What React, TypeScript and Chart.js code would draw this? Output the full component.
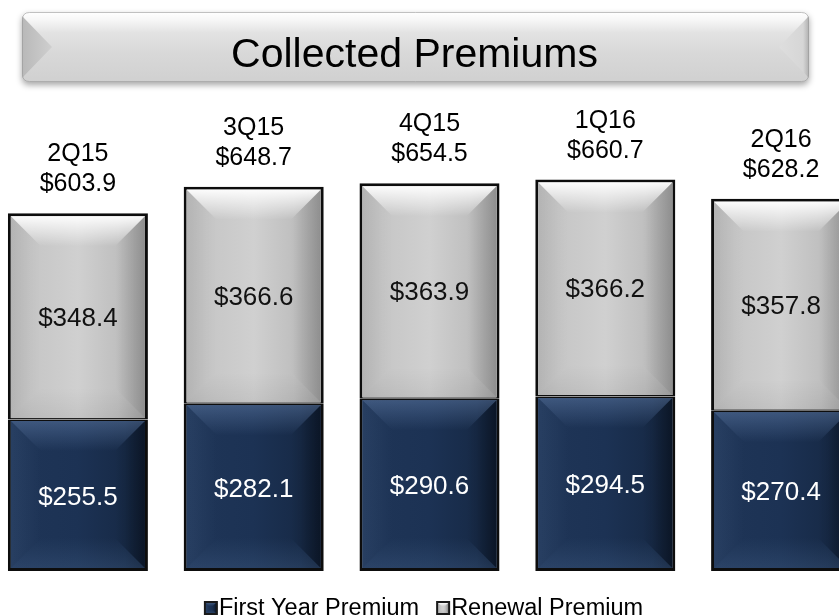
import React, { useEffect, useRef } from 'react';
import { Chart, registerables } from 'chart.js';

Chart.register(...registerables);

// ---- data ----
const categories = ['2Q15', '3Q15', '4Q15', '1Q16', '2Q16'];
const firstYearPremium = [255.5, 282.1, 290.6, 294.5, 270.4];
const renewalPremium = [348.4, 366.6, 363.9, 366.2, 357.8];
const totals = [603.9, 648.7, 654.5, 660.7, 628.2];
const seriesNames = ['First Year Premium', 'Renewal Premium'];
const titleText = 'Collected Premiums';

const FONT = '"Liberation Sans", Arial, Helvetica, sans-serif';
const OFFSET_X = 10; // canvas sits 10px left of the page edge

const fmt = (v: number) => '$' + v.toFixed(1);

type Pal = {
  base: [number, string][];
  top: [string, string];
  bottom: [string, string];
  right: [string, string];
  left: [string, string];
};

const NAVY: Pal = {
  base: [[0, '#1f3557'], [0.5, '#1c3254'], [0.85, '#172a47'], [1, '#0f1d33']],
  top: ['rgba(110,140,185,0.4)', 'rgba(110,140,185,0)'],
  bottom: ['rgba(70,100,140,0)', 'rgba(70,100,140,0.3)'],
  right: ['rgba(0,0,0,0)', 'rgba(0,0,0,0.25)'],
  left: ['rgba(90,120,160,0.15)', 'rgba(90,120,160,0)'],
};
const GRAY: Pal = {
  base: [[0, '#bdbdbd'], [0.15, '#c6c6c6'], [0.5, '#d0d0d0'], [0.8, '#bfbfbf'], [1, '#a2a2a2']],
  top: ['rgba(255,255,255,0.95)', 'rgba(255,255,255,0)'],
  bottom: ['rgba(0,0,0,0)', 'rgba(0,0,0,0.06)'],
  right: ['rgba(0,0,0,0)', 'rgba(0,0,0,0.12)'],
  left: ['rgba(0,0,0,0.05)', 'rgba(0,0,0,0)'],
};

function poly(ctx: CanvasRenderingContext2D, pts: number[][], fill: any) {
  ctx.beginPath();
  ctx.moveTo(pts[0][0], pts[0][1]);
  for (let i = 1; i < pts.length; i++) ctx.lineTo(pts[i][0], pts[i][1]);
  ctx.closePath();
  ctx.fillStyle = fill;
  ctx.fill();
}

function drawBevel(ctx: CanvasRenderingContext2D, x0: number, y0: number, x1: number, y1: number, pal: Pal, depth = 30) {
  const w = x1 - x0, h = y1 - y0;
  if (w <= 0 || h <= 0) return;
  const d = Math.min(depth, w / 3, h / 3);
  const g = ctx.createLinearGradient(x0, 0, x1, 0);
  pal.base.forEach(([s, c]) => g.addColorStop(s, c));
  ctx.fillStyle = g;
  ctx.fillRect(x0, y0, w, h);
  let gr = ctx.createLinearGradient(0, y0, 0, y0 + d);
  gr.addColorStop(0, pal.top[0]); gr.addColorStop(1, pal.top[1]);
  poly(ctx, [[x0, y0], [x1, y0], [x1 - d, y0 + d], [x0 + d, y0 + d]], gr);
  gr = ctx.createLinearGradient(0, y1 - d, 0, y1);
  gr.addColorStop(0, pal.bottom[0]); gr.addColorStop(1, pal.bottom[1]);
  poly(ctx, [[x0, y1], [x1, y1], [x1 - d, y1 - d], [x0 + d, y1 - d]], gr);
  gr = ctx.createLinearGradient(x1 - d, 0, x1, 0);
  gr.addColorStop(0, pal.right[0]); gr.addColorStop(1, pal.right[1]);
  poly(ctx, [[x1, y0], [x1, y1], [x1 - d, y1 - d], [x1 - d, y0 + d]], gr);
  gr = ctx.createLinearGradient(x0, 0, x0 + d, 0);
  gr.addColorStop(0, pal.left[0]); gr.addColorStop(1, pal.left[1]);
  poly(ctx, [[x0, y0], [x0, y1], [x0 + d, y1 - d], [x0 + d, y0 + d]], gr);
}

function roundRect(ctx: CanvasRenderingContext2D, x: number, y: number, w: number, h: number, r: number) {
  ctx.beginPath();
  ctx.moveTo(x + r, y);
  ctx.lineTo(x + w - r, y);
  ctx.quadraticCurveTo(x + w, y, x + w, y + r);
  ctx.lineTo(x + w, y + h - r);
  ctx.quadraticCurveTo(x + w, y + h, x + w - r, y + h);
  ctx.lineTo(x + r, y + h);
  ctx.quadraticCurveTo(x, y + h, x, y + h - r);
  ctx.lineTo(x, y + r);
  ctx.quadraticCurveTo(x, y, x + r, y);
  ctx.closePath();
}

const bannerPlugin = {
  id: 'banner',
  beforeDraw(chart: any) {
    const ctx: CanvasRenderingContext2D = chart.ctx;
    const x = 22 + OFFSET_X, y = 12, w = 787, h = 70;
    ctx.save();
    ctx.shadowColor = 'rgba(0,0,0,0.35)';
    ctx.shadowBlur = 6;
    ctx.shadowOffsetY = 3;
    roundRect(ctx, x, y, w, h, 7);
    const g = ctx.createLinearGradient(0, y, 0, y + h);
    g.addColorStop(0, '#ffffff');
    g.addColorStop(0.12, '#f6f6f6');
    g.addColorStop(0.3, '#e2e2e2');
    g.addColorStop(0.6, '#d8d8d8');
    g.addColorStop(1, '#d0d0d0');
    ctx.fillStyle = g;
    ctx.fill();
    ctx.restore();
    ctx.save();
    roundRect(ctx, x, y, w, h, 7);
    ctx.clip();
    let lg = ctx.createLinearGradient(x, 0, x + 30, 0);
    lg.addColorStop(0, '#b8b8b8');
    lg.addColorStop(1, '#cfcfcf');
    poly(ctx, [[x, y + 4], [x + 30, y + h / 2], [x, y + h - 4]], lg);
    lg = ctx.createLinearGradient(x + w - 30, 0, x + w, 0);
    lg.addColorStop(0, '#dedede');
    lg.addColorStop(0.8, '#d6d6d6');
    lg.addColorStop(1, '#b0b0b0');
    poly(ctx, [[x + w, y + 4], [x + w - 30, y + h / 2], [x + w, y + h - 4]], lg);
    ctx.restore();
    ctx.save();
    roundRect(ctx, x + 0.5, y + 0.5, w - 1, h - 1, 7);
    ctx.strokeStyle = 'rgba(150,150,150,0.6)';
    ctx.lineWidth = 1;
    ctx.stroke();
    ctx.fillStyle = '#000';
    ctx.font = `41px ${FONT}`;
    ctx.textAlign = 'center';
    ctx.textBaseline = 'alphabetic';
    ctx.fillText(titleText, 414.5 + OFFSET_X, 67);
    ctx.restore();
  },
};

const barDecorPlugin = {
  id: 'barDecor',
  afterDatasetsDraw(chart: any) {
    const ctx: CanvasRenderingContext2D = chart.ctx;
    ctx.save();
    const pals = [NAVY, GRAY];
    chart.data.datasets.forEach((ds: any, di: number) => {
      const meta = chart.getDatasetMeta(di);
      const bw = ds.borderWidth;
      meta.data.forEach((el: any, i: number) => {
        const p = el.getProps(['x', 'y', 'base', 'width'], true);
        const left = p.x - p.width / 2, right = p.x + p.width / 2;
        const top = Math.min(p.y, p.base), bottom = Math.max(p.y, p.base);
        drawBevel(ctx, left + bw.left, top + bw.top, right - bw.right, bottom - bw.bottom, pals[di]);
        const size = 26;
        ctx.font = `${size}px ${FONT}`;
        ctx.textAlign = 'center';
        ctx.textBaseline = 'alphabetic';
        ctx.fillStyle = di === 0 ? '#ffffff' : '#111111';
        const v = ds.data[i];
        ctx.fillText(fmt(v), p.x, (top + bottom) / 2 + size * 0.358);
      });
    });
    const topMeta = chart.getDatasetMeta(chart.data.datasets.length - 1);
    topMeta.data.forEach((el: any, i: number) => {
      const p = el.getProps(['x', 'y', 'base'], true);
      const top = Math.min(p.y, p.base);
      ctx.font = `25px ${FONT}`;
      ctx.fillStyle = '#000';
      ctx.textAlign = 'center';
      ctx.fillText(categories[i], p.x, top - 52);
      ctx.fillText(fmt(totals[i]), p.x, top - 22);
    });
    ctx.restore();
  },
};

const legendPlugin = {
  id: 'customLegend',
  afterDraw(chart: any) {
    const ctx: CanvasRenderingContext2D = chart.ctx;
    ctx.save();
    const size = 23.5;
    ctx.font = `${size}px ${FONT}`;
    const box = 14, gapText = 1, gapItem = 17;
    const items = chart.data.datasets.map((d: any) => d.label as string);
    const widths = items.map((t: string) => ctx.measureText(t).width);
    const total = widths.reduce((a: number, b: number) => a + b, 0) + items.length * (box + gapText) + gapItem * (items.length - 1);
    let x = 423.5 + OFFSET_X - total / 2;
    const baseline = 615;
    const pals = [NAVY, GRAY];
    items.forEach((t: string, i: number) => {
      const by = baseline - 14;
      ctx.fillStyle = '#1a1a1a';
      ctx.fillRect(x, by, box, box);
      drawBevel(ctx, x + 2, by + 2, x + box - 2, by + box - 2, pals[i], 4);
      ctx.fillStyle = '#000';
      ctx.textAlign = 'left';
      ctx.textBaseline = 'alphabetic';
      ctx.fillText(t, x + box + gapText, baseline);
      x += box + gapText + widths[i] + gapItem;
    });
    ctx.restore();
  },
};

export default function App() {
  const ref = useRef<HTMLCanvasElement | null>(null);
  useEffect(() => {
    if (!ref.current) return;
    const chart = new Chart(ref.current, {
      type: 'bar',
      data: {
        labels: categories,
        datasets: [
          {
            label: seriesNames[0],
            data: firstYearPremium,
            backgroundColor: '#1c3254',
            borderColor: '#0d0d0d',
            borderWidth: { top: 1.5, left: 3, right: 3, bottom: 3 } as any,
            borderSkipped: false,
          },
          {
            label: seriesNames[1],
            data: renewalPremium,
            backgroundColor: '#c8c8c8',
            borderColor: '#0d0d0d',
            borderWidth: { top: 3, left: 3, right: 3, bottom: 1.5 } as any,
            borderSkipped: false,
          },
        ],
      },
      options: {
        animation: false,
        responsive: true,
        maintainAspectRatio: false,
        events: [],
        layout: { padding: { left: 0, right: 0, top: 97, bottom: 45 } },
        datasets: { bar: { categoryPercentage: 1, barPercentage: 0.7966 } },
        scales: {
          x: { stacked: true, display: false },
          y: { stacked: true, display: false, min: 0, max: 800 },
        },
        plugins: {
          legend: { display: false },
          title: { display: false },
          tooltip: { enabled: false },
        },
      },
      plugins: [bannerPlugin, barDecorPlugin, legendPlugin],
    });
    return () => chart.destroy();
  }, []);
  return (
    <div style={{ position: 'fixed', left: 0, top: 0, width: 839, height: 616, overflow: 'hidden', background: '#fff' }}>
      <div style={{ position: 'absolute', left: -OFFSET_X, top: 0, width: 879, height: 616 }}>
        <canvas ref={ref} />
      </div>
    </div>
  );
}
